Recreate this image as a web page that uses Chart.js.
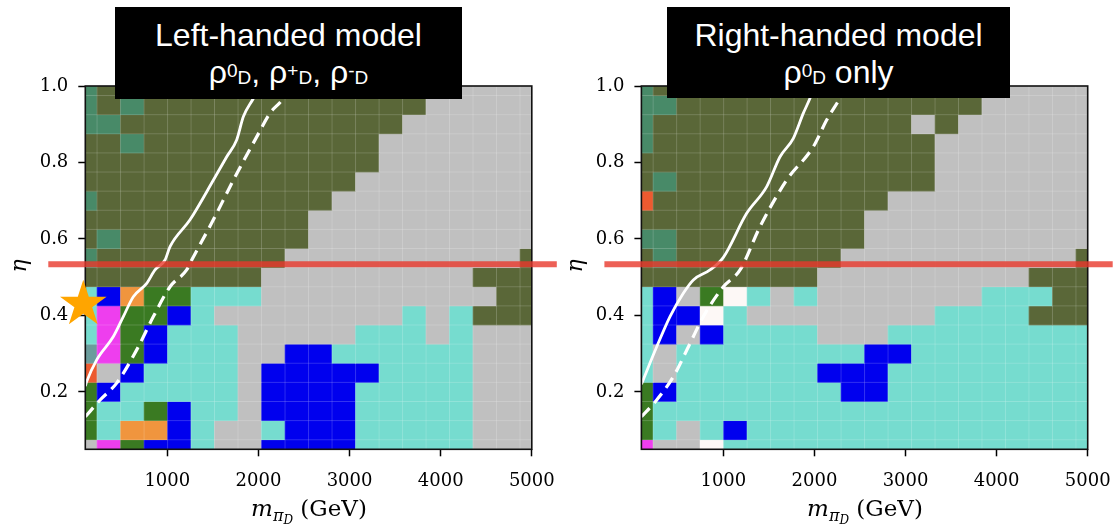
<!DOCTYPE html>
<html>
<head>
<meta charset="utf-8">
<script src="https://cdn.jsdelivr.net/npm/chart.js@4.4.1/dist/chart.umd.min.js"></script>
<style>
  body { margin: 0; width: 1116px; height: 524px; background: #fff; position: relative; overflow: hidden; }
  canvas { position: absolute; top: 0; }
  .caixa { position: absolute; background: #000; color: #fff; text-align: center;
           font-family: "Liberation Sans", Arial, sans-serif; font-size: 32px; line-height: 37px;
           padding-top: 10px; box-sizing: border-box; z-index: 5; }
  .caixa sup, .caixa sub { font-size: 19px; line-height: 0; }
  .caixa sup { vertical-align: 6px; }
  .caixa sub { vertical-align: -1px; }
  .eta { position: absolute; width: 26px; height: 26px; line-height: 26px; text-align: center;
         font-family: "DejaVu Serif", serif; font-style: italic; font-size: 22px; transform: rotate(-90deg); }
  .xlab { position: absolute; top: 495px; width: 260px; text-align: center;
          font-family: "DejaVu Serif", serif; font-size: 23px; white-space: nowrap; }
  .xlab sub { font-size: 16px; vertical-align: -5px; }
  .xlab sub sub { font-size: 12px; vertical-align: -3px; }
</style>
</head>
<body>
<canvas id="graficoEsq" width="558" height="524" style="left:0"></canvas>
<canvas id="graficoDir" width="558" height="524" style="left:558px"></canvas>

<div class="caixa" style="left:115px;top:7px;width:347px;height:92px">Left-handed model<br>ρ<sup>0</sup><sub>D</sub>, ρ<sup>+</sup><sub>D</sub>, ρ<sup>-</sup><sub>D</sub></div>
<div class="caixa" style="left:667px;top:7px;width:343px;height:91px">Right-handed model<br>ρ<sup>0</sup><sub>D</sub> only</div>

<div class="eta" style="left:6px;top:253px">η</div>
<div class="eta" style="left:562px;top:253px">η</div>
<div class="xlab" style="left:179px"><i>m</i><sub><i>π</i><sub><i>D</i></sub></sub>&nbsp;(GeV)</div>
<div class="xlab" style="left:735px"><i>m</i><sub><i>π</i><sub><i>D</i></sub></sub>&nbsp;(GeV)</div>

<script>
// centros das células
const massBins = [100, 358, 616, 874, 1132, 1389, 1647, 1905, 2163, 2421, 2679, 2937, 3195, 3453, 3711, 3968, 4226, 4484, 4742, 5000];
const etaBins = [0.05, 0.10, 0.15, 0.20, 0.25, 0.30, 0.35, 0.40, 0.45, 0.50, 0.55, 0.60, 0.65, 0.70, 0.75, 0.80, 0.85, 0.90, 0.95, 1.00];
const xTicks = [1000, 2000, 3000, 4000, 5000];
const yTicks = [0.2, 0.4, 0.6, 0.8, 1.0];

// categorias de cor
const cores = {
    O: '#5a6738', G: '#c0c0c0', C: '#76dccf', B: '#0000ee', D: '#3a7a22',
    S: '#488a68', A: '#f0953e', M: '#ee3eee', R: '#ec5a30', T: '#6b9c9c', W: '#fdf8f6'
};

// linhas da grade, de eta = 1.0 (topo) até 0.05
const gridEsq = [
    'SOOOOOOOOOOOOOOOGGGG',
    'SOSOOOOOOOOOOOOGGGGG',
    'SSOOOOOOOOOOOOGGGGGG',
    'OOSOOOOOOOOOOGGGGGGG',
    'OOOOOOOOOOOOOGGGGGGG',
    'OOOOOOOOOOOOGGGGGGGG',
    'SOOOOOOOOOOGGGGGGGGG',
    'OOOOOOOOOOGGGGGGGGGG',
    'OSOOOOOOOOGGGGGGGGGG',
    'SOOOOOOOOGGGGGGGGGGO',
    'OOOOOOOOGGGGGGGGGOOO',
    'CBADDCCCGGGGGGGGGGOO',
    'CMDDBCGGGGGGGGCGCOOO',
    'CMDBCCCGGGGGCCCGCGGG',
    'TMDBCCCGGBBCCCCCCGGG',
    'RGBCCCCGBBBBBCCCCGGG',
    'DBCCCCCGBBBBCCCCCGGG',
    'DCCDBCCGBBBBCCCCCGGG',
    'DCAABCGGCBBBCCCCCGGG',
    'GMDBBCGGBBBBCCCCCGGG'
];
const gridDir = [
    'SOOOOOOOOOOOOOOOGGGG',
    'SSOOOOOOOOOOOOOGGGGG',
    'SOOOOOOOOOOOGOGGGGGG',
    'SOOOOOOOOOOOOGGGGGGG',
    'OOOOOOOOOOOOOGGGGGGG',
    'OSOOOOOOOOOOOGGGGGGG',
    'ROOOOOOOOOOGGGGGGGGG',
    'OOOOOOOOOOGGGGGGGGGG',
    'SSOOOOOOOOGGGGGGGGGG',
    'OSOOOOOOOGGGGGGGGGGO',
    'OOOOOOOOGGGGGGGGGOOO',
    'CBGDWCGCGGGGGGGCCCOO',
    'CBBWCGGGGGGGGCCCCOOO',
    'CBGBCCCCGGGCCCCCCCCC',
    'CGCCCCCCCCBBCCCCCCCC',
    'CGCCCCCCBBBCCCCCCCCC',
    'DBCCCCCCCBBCCCCCCCCC',
    'DCCCCCCCCCCCCCCCCCCC',
    'DCGCBCCCCCCCCCCCCCCC',
    'MGGWCCCCCCCCCCCCCCCC'
];

// curvas brancas (massa, eta)
const solidaEsqX = [100, 115, 225, 408, 517, 627, 774, 865, 975, 1030, 1249, 1506, 1652, 1761, 1835, 1945, 2010];
const solidaEsqY = [0.215, 0.227, 0.284, 0.345, 0.397, 0.449, 0.484, 0.519, 0.545, 0.58, 0.65, 0.754, 0.815, 0.859, 0.92, 0.968, 1.0];
const tracoEsqX = [100, 262, 444, 664, 847, 1030, 1212, 1268, 1505, 1725, 1981, 2127, 2273, 2340];
const tracoEsqY = [0.135, 0.179, 0.223, 0.31, 0.397, 0.475, 0.519, 0.545, 0.65, 0.754, 0.867, 0.929, 0.968, 1.0];
const solidaDirX = [100, 268, 414, 560, 670, 853, 1000, 1256, 1476, 1622, 1768, 1878, 1951, 2000];
const solidaDirY = [0.22, 0.318, 0.397, 0.458, 0.493, 0.519, 0.552, 0.667, 0.737, 0.815, 0.863, 0.929, 0.968, 1.0];
const tracoDirX = [100, 268, 451, 634, 780, 1000, 1183, 1402, 1695, 1987, 2134, 2280, 2350];
const tracoDirY = [0.135, 0.179, 0.24, 0.327, 0.397, 0.475, 0.519, 0.632, 0.754, 0.841, 0.911, 0.968, 1.0];

// linha vermelha e estrela
const etaVermelho = 0.534;
const estrelaPonto = { x: 78, y: 0.429 };

function borda(bins, i, lado) {
    if (lado < 0) return i === 0 ? bins[0] - (bins[1] - bins[0]) / 2 : (bins[i - 1] + bins[i]) / 2;
    const ult = bins.length - 1;
    return i === ult ? bins[ult] + (bins[ult] - bins[ult - 1]) / 2 : (bins[i] + bins[i + 1]) / 2;
}

function pares(xs, ys) {
    return xs.map((v, k) => ({ x: v, y: ys[k] }));
}

const painelPlugin = {
    id: 'painel',
    beforeDatasetsDraw(chart, args, opts) {
        const { ctx, chartArea: a, scales: { x, y } } = chart;
        const n = etaBins.length;
        ctx.save();
        ctx.beginPath();
        ctx.rect(a.left, a.top, a.width, a.height);
        ctx.clip();
        etaBins.forEach((eta, j) => {
            const linha = opts.linhas[n - 1 - j];
            const yb = y.getPixelForValue(borda(etaBins, j, -1));
            const yt = y.getPixelForValue(borda(etaBins, j, 1));
            massBins.forEach((m, i) => {
                const xl = x.getPixelForValue(borda(massBins, i, -1));
                const xr = x.getPixelForValue(borda(massBins, i, 1));
                ctx.fillStyle = cores[linha[i]];
                ctx.fillRect(xl - 0.3, yt - 0.3, xr - xl + 0.6, yb - yt + 0.6);
            });
        });
        // bordas claras das células
        ctx.strokeStyle = 'rgba(255,255,255,0.17)';
        ctx.lineWidth = 1;
        for (let i = 1; i < massBins.length; i++) {
            const px = x.getPixelForValue(borda(massBins, i, -1));
            ctx.beginPath(); ctx.moveTo(px, a.top); ctx.lineTo(px, a.bottom); ctx.stroke();
        }
        for (let j = 1; j < etaBins.length; j++) {
            const py = y.getPixelForValue(borda(etaBins, j, -1));
            ctx.beginPath(); ctx.moveTo(a.left, py); ctx.lineTo(a.right, py); ctx.stroke();
        }
        ctx.restore();
    },
    afterDraw(chart, args, opts) {
        const { ctx, chartArea: a, scales: { x, y } } = chart;
        ctx.save();
        ctx.strokeStyle = '#111';
        ctx.lineWidth = 1.6;
        ctx.strokeRect(a.left, a.top, a.width, a.height);
        // linha vermelha
        const yr = y.getPixelForValue(etaVermelho);
        ctx.strokeStyle = 'rgba(232,56,44,0.8)';
        ctx.lineWidth = 6;
        ctx.beginPath(); ctx.moveTo(a.left - 37, yr); ctx.lineTo(a.right + 25, yr); ctx.stroke();
        // estrela
        if (opts.estrela) {
            const cx = x.getPixelForValue(estrelaPonto.x), cy = y.getPixelForValue(estrelaPonto.y);
            const R = 24.5, r = R * 0.382;
            ctx.fillStyle = '#ffa500';
            ctx.beginPath();
            for (let k = 0; k < 10; k++) {
                const rad = k % 2 ? r : R;
                const ang = -Math.PI / 2 + k * Math.PI / 5;
                ctx.lineTo(cx + rad * Math.cos(ang), cy + rad * Math.sin(ang));
            }
            ctx.closePath();
            ctx.fill();
        }
        ctx.restore();
    }
};

Chart.defaults.font.family = 'DejaVu Serif';
Chart.defaults.color = '#000';

function montarPainel(id, linhas, solida, tracejada, estrela, larguraY, padDireita) {
    const ctx = document.getElementById(id).getContext('2d');
    return new Chart(ctx, {
        type: 'scatter',
        data: {
            datasets: [{
                data: solida,
                showLine: true,
                borderColor: '#ffffff',
                borderWidth: 2.8,
                pointRadius: 0,
                cubicInterpolationMode: 'monotone'
            }, {
                data: tracejada,
                showLine: true,
                borderColor: '#ffffff',
                borderWidth: 3.2,
                borderDash: [12, 7],
                pointRadius: 0,
                cubicInterpolationMode: 'monotone'
            }]
        },
        options: {
            responsive: false,
            animation: false,
            devicePixelRatio: 1,
            layout: { padding: { left: 0, top: 86, right: padDireita, bottom: 0 } },
            plugins: {
                legend: { display: false },
                tooltip: { enabled: false },
                painel: { linhas: linhas, estrela: estrela }
            },
            scales: {
                x: {
                    type: 'linear',
                    min: 100,
                    max: 5000,
                    afterBuildTicks: s => { s.ticks = xTicks.map(v => ({ value: v })); },
                    afterFit: s => { s.height = 524 - 449.3; },
                    ticks: { font: { size: 18, lineHeight: 2.6 }, padding: 2, maxRotation: 0, autoSkip: false, callback: v => String(v) },
                    grid: { drawOnChartArea: false, drawTicks: true, tickLength: 7, tickWidth: 1.5, tickColor: '#000', color: '#000' },
                    border: { display: false }
                },
                y: {
                    type: 'linear',
                    min: 0.05,
                    max: 1.0,
                    afterBuildTicks: s => { s.ticks = yTicks.map(v => ({ value: v })); },
                    afterFit: s => { s.width = larguraY; },
                    ticks: { font: { size: 18 }, padding: 10, autoSkip: false, callback: v => v.toFixed(1) },
                    grid: { drawOnChartArea: false, drawTicks: true, tickLength: 7, tickWidth: 1.5, tickColor: '#000', color: '#000' },
                    border: { display: false }
                }
            }
        },
        plugins: [painelPlugin]
    });
}

montarPainel('graficoEsq', gridEsq, pares(solidaEsqX, solidaEsqY), pares(tracoEsqX, tracoEsqY), true, 85.3, 26.2);
montarPainel('graficoDir', gridDir, pares(solidaDirX, solidaDirY), pares(tracoDirX, tracoDirY), false, 83.4, 28.3);
</script>
</body>
</html>
